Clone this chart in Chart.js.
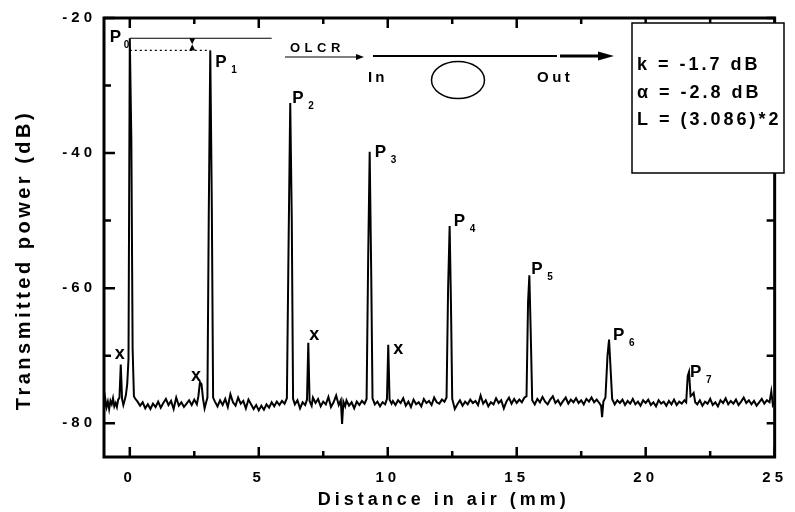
<html>
<head>
<style>
  body { margin: 0; background: #fff; }
  #wrap { width: 795px; height: 512px; }
</style>
</head>
<body>
<div id="wrap">
  <canvas id="myChart" width="795" height="512"></canvas>
</div>

<script src="https://cdn.jsdelivr.net/npm/chart.js"></script>

<script>
  // OLCR trace, distance in air (mm) vs transmitted power (dB)
  const dist = [
    -1.00, -0.95, -0.90, -0.85, -0.80, -0.75, -0.70, -0.65, -0.60, -0.55,
    -0.50, -0.45, -0.40, -0.35, -0.30, -0.25, -0.20, -0.15, -0.10, -0.05,
    0.00, 0.06, 0.11, 0.16, 0.20, 0.30, 0.40, 0.50, 0.60, 0.70,
    0.80, 0.90, 1.00, 1.10, 1.20, 1.30, 1.40, 1.50, 1.60, 1.70,
    1.80, 1.90, 2.00, 2.10, 2.20, 2.30, 2.40, 2.50, 2.60, 2.66,
    2.72, 2.78, 2.84, 2.90, 2.96, 3.01, 3.06, 3.12, 3.18, 3.23,
    3.30, 3.40, 3.50, 3.60, 3.70, 3.80, 3.90, 4.00, 4.10, 4.20,
    4.30, 4.40, 4.50, 4.60, 4.70, 4.80, 4.90, 5.00, 5.10, 5.20,
    5.30, 5.40, 5.50, 5.60, 5.70, 5.80, 5.90, 6.00, 6.09, 6.16,
    6.22, 6.28, 6.33, 6.40, 6.50, 6.60, 6.70, 6.80, 6.87, 6.92,
    6.97, 7.05, 7.10, 7.20, 7.30, 7.40, 7.50, 7.60, 7.70, 7.80,
    7.90, 8.00, 8.10, 8.18, 8.23, 8.28, 8.35, 8.40, 8.50, 8.60,
    8.70, 8.80, 8.90, 9.00, 9.10, 9.18, 9.24, 9.30, 9.36, 9.41,
    9.50, 9.60, 9.70, 9.80, 9.90, 9.97, 10.02, 10.07, 10.15, 10.20,
    10.30, 10.40, 10.50, 10.60, 10.70, 10.80, 10.90, 11.00, 11.10, 11.20,
    11.30, 11.40, 11.50, 11.60, 11.70, 11.80, 11.90, 12.00, 12.10, 12.20,
    12.28, 12.34, 12.40, 12.45, 12.50, 12.60, 12.70, 12.80, 12.90, 13.00,
    13.10, 13.20, 13.30, 13.40, 13.50, 13.60, 13.70, 13.80, 13.90, 14.00,
    14.10, 14.20, 14.30, 14.40, 14.50, 14.60, 14.70, 14.80, 14.90, 15.00,
    15.10, 15.20, 15.30, 15.38, 15.44, 15.49, 15.54, 15.60, 15.70, 15.80,
    15.90, 16.00, 16.10, 16.20, 16.30, 16.40, 16.50, 16.60, 16.70, 16.80,
    16.90, 17.00, 17.10, 17.20, 17.30, 17.40, 17.50, 17.60, 17.70, 17.80,
    17.90, 18.00, 18.10, 18.20, 18.27, 18.31, 18.36, 18.44, 18.52, 18.58,
    18.64, 18.70, 18.80, 18.90, 19.00, 19.10, 19.20, 19.30, 19.40, 19.50,
    19.60, 19.70, 19.80, 19.90, 20.00, 20.10, 20.20, 20.30, 20.40, 20.50,
    20.60, 20.70, 20.80, 20.90, 21.00, 21.10, 21.20, 21.30, 21.40, 21.50,
    21.57, 21.63, 21.68, 21.74, 21.80, 21.86, 21.92, 22.00, 22.10, 22.20,
    22.30, 22.40, 22.50, 22.60, 22.70, 22.80, 22.90, 23.00, 23.10, 23.20,
    23.30, 23.40, 23.50, 23.60, 23.70, 23.80, 23.90, 24.00, 24.10, 24.20,
    24.30, 24.40, 24.50, 24.60, 24.70, 24.80, 24.87, 24.93, 25.00
  ];
  const power = [
    -78.0, -76.4, -77.6, -76.8, -77.9, -76.7, -77.2, -76.3, -77.5, -77.0,
    -77.6, -76.5, -76.2, -71.3, -76.4, -77.3, -76.6, -75.8, -74.2, -70.5,
    -23.0, -38.0, -69.0, -76.0, -76.3, -76.8, -77.4, -76.9, -77.8, -77.2,
    -77.9, -77.1, -77.6, -76.8, -77.7, -77.0, -76.4, -77.3, -76.7, -77.9,
    -76.2, -77.4, -76.9, -77.6, -77.1, -76.6, -77.3, -76.5, -77.2, -76.0,
    -73.9, -74.2, -76.4, -77.8, -76.9, -76.2, -50.0, -24.8, -48.0, -76.2,
    -76.8, -77.5, -76.6, -77.3, -76.4, -77.6, -75.7, -76.9, -77.4, -76.2,
    -77.1, -76.7, -77.8, -76.5, -77.2, -77.9, -77.3, -78.1, -77.4, -78.0,
    -77.2, -77.7, -76.9, -77.5, -76.8, -77.3, -76.7, -77.1, -76.3, -52.0,
    -32.6, -50.0, -76.4, -77.2, -76.6, -77.8, -76.9, -77.3, -76.5, -68.1,
    -76.7, -77.4, -76.2, -77.0, -76.4, -77.5, -76.8, -77.2, -76.1, -77.6,
    -76.9, -75.9, -77.3, -76.6, -80.1, -76.8, -77.5, -76.6, -77.4, -76.9,
    -77.8, -76.8, -77.3, -76.7, -77.1, -76.4, -56.0, -39.8, -58.0, -76.3,
    -77.2, -76.8, -77.5, -76.9, -77.2, -76.4, -68.4, -76.5, -77.1, -76.7,
    -77.3, -76.6, -77.0, -76.3, -77.4, -76.8, -77.6, -76.5, -77.2, -76.9,
    -77.5, -76.4, -77.0, -76.7, -77.3, -76.2, -76.9, -77.1, -76.5, -76.8,
    -76.2, -60.0, -50.8, -62.0, -76.4, -77.9, -77.2, -76.6, -77.4, -76.8,
    -77.2, -76.5, -77.0, -76.7, -77.3, -75.9, -77.1, -76.6, -77.5, -76.9,
    -77.2, -76.3, -77.0, -76.6, -77.8, -76.8, -76.2, -77.1, -76.4, -77.0,
    -76.5, -76.9, -76.2, -76.0, -62.0, -58.1, -66.0, -76.6, -77.2, -76.4,
    -76.9, -76.1, -76.8, -77.2, -76.5, -76.0, -77.0, -76.6, -77.3, -76.7,
    -76.2, -77.1, -76.5, -76.9, -76.3, -77.0, -76.6, -77.2, -76.4, -76.8,
    -76.2, -76.9, -76.5, -77.0, -77.4, -79.1, -76.8, -76.2, -70.0, -67.6,
    -72.0, -76.4, -77.2, -76.6, -77.0, -76.5, -77.3, -76.7, -77.1, -76.4,
    -77.2, -76.8, -77.4, -76.6, -77.0, -76.5, -77.3, -76.9, -77.5, -76.6,
    -77.1, -76.8, -77.4, -76.7, -77.2, -76.5, -77.3, -76.8, -77.1, -76.6,
    -76.9, -73.0, -72.4, -76.0, -75.8, -75.5, -76.9, -77.2, -76.6, -77.4,
    -76.8, -77.1, -76.4, -77.3, -76.9, -77.5, -76.6, -77.0, -76.3, -77.2,
    -76.7, -77.1, -76.5, -77.3, -76.8, -76.2, -77.0, -76.6, -77.2, -76.7,
    -77.4, -76.9, -76.4, -77.1, -76.6, -76.9, -75.3, -77.3, -76.8
  ];

  // labelled peaks P0..P7 and the spurious "x" reflections
  const peakNames = ['0', '1', '2', '3', '4', '5', '6', '7'];
  const peakDist = [0.00, 3.12, 6.22, 9.30, 12.40, 15.49, 18.58, 21.68];
  const peakPower = [-23.0, -24.8, -32.6, -39.8, -50.8, -58.1, -67.6, -72.4];
  const spurDist = [-0.35, 2.72, 6.92, 10.02];
  const spurPower = [-71.3, -73.9, -68.1, -68.4];

  const xTickValues = [0, 5, 10, 15, 20, 25];
  const xMinorValues = [2.5, 7.5, 12.5, 17.5, 22.5];
  const yTickValues = [-80, -60, -40, -20];
  const yMinorValues = [-70, -50, -30];

  const insetLines = ['k = -1.7 dB', '\u03B1 = -2.8 dB', 'L = (3.086)*2'];

  const FONT = "'Liberation Sans', Arial, sans-serif";
  Chart.defaults.font.family = FONT;
  Chart.defaults.color = '#000';

  function txt(ctx, s, x, y, size, spacing) {
    ctx.font = 'bold ' + size + 'px ' + FONT;
    ctx.letterSpacing = (spacing || 0) + 'px';
    ctx.fillText(s, x, y);
  }

  function arrowHead(ctx, x, y, len, half) {
    ctx.beginPath();
    ctx.moveTo(x, y);
    ctx.lineTo(x - len, y - half);
    ctx.lineTo(x - len, y + half);
    ctx.closePath();
    ctx.fill();
  }

  const decor = {
    id: 'decor',
    beforeDraw(chart) {
      // the scanned figure uses widely spaced lettering for ticks and titles
      chart.ctx.letterSpacing = '4px';
    },
    afterDraw(chart) {
      const ctx = chart.ctx;
      const a = chart.chartArea;
      const xs = chart.scales.x, ys = chart.scales.y;
      ctx.save();
      ctx.letterSpacing = '0px';
      ctx.strokeStyle = '#000';
      ctx.fillStyle = '#000';

      // frame + inward ticks on all four sides
      ctx.lineWidth = 3;
      ctx.strokeRect(a.left, a.top, a.right - a.left, a.bottom - a.top);
      ctx.lineWidth = 2.5;
      ctx.beginPath();
      xTickValues.concat(xMinorValues).forEach(function (v) {
        const px = xs.getPixelForValue(v);
        const len = xTickValues.includes(v) ? 10 : 6;
        ctx.moveTo(px, a.bottom); ctx.lineTo(px, a.bottom - len);
        ctx.moveTo(px, a.top); ctx.lineTo(px, a.top + len);
      });
      yTickValues.concat(yMinorValues).forEach(function (v) {
        const py = ys.getPixelForValue(v);
        const len = yTickValues.includes(v) ? 11 : 7;
        ctx.moveTo(a.left, py); ctx.lineTo(a.left + len, py);
        ctx.moveTo(a.right, py); ctx.lineTo(a.right - 8, py);
      });
      ctx.stroke();

      // y axis title
      ctx.save();
      ctx.translate(24, 260);
      ctx.rotate(-Math.PI / 2);
      ctx.textAlign = 'center';
      ctx.textBaseline = 'middle';
      txt(ctx, 'Transmitted power (dB)', 0, 0, 20, 3.5);
      ctx.restore();

      // reference lines between P0 and P1
      const p0x = xs.getPixelForValue(peakDist[0]);
      const p0y = ys.getPixelForValue(peakPower[0]);
      const p1x = xs.getPixelForValue(peakDist[1]);
      const p1y = ys.getPixelForValue(peakPower[1]);
      ctx.lineWidth = 1.2;
      ctx.beginPath();
      ctx.moveTo(p0x, p0y); ctx.lineTo(xs.getPixelForValue(5.5), p0y);
      ctx.stroke();
      ctx.setLineDash([2, 3]);
      ctx.beginPath();
      ctx.moveTo(p0x, p1y); ctx.lineTo(p1x, p1y);
      ctx.stroke();
      ctx.setLineDash([]);
      const mx = xs.getPixelForValue(2.42);
      ctx.beginPath();
      ctx.moveTo(mx - 3, p0y); ctx.lineTo(mx + 3, p0y); ctx.lineTo(mx, (p0y + p1y) / 2); ctx.closePath();
      ctx.moveTo(mx - 3, p1y); ctx.lineTo(mx + 3, p1y); ctx.lineTo(mx, (p0y + p1y) / 2); ctx.closePath();
      ctx.fill();

      // peak labels
      const offs = [[-20, 4], [5, 17], [2, 0], [5, 5], [4, 0], [2, -1], [4, 1], [1, 5]];
      ctx.textAlign = 'left';
      ctx.textBaseline = 'alphabetic';
      peakNames.forEach(function (n, i) {
        const px = xs.getPixelForValue(peakDist[i]) + offs[i][0];
        const py = ys.getPixelForValue(peakPower[i]) + offs[i][1];
        txt(ctx, 'P', px, py, 17, 0);
        txt(ctx, n, px + (i === 0 ? 14 : 16), py + 6, 10, 0);
      });

      // spurious reflection marks
      const xoffs = [[-1, -9], [-4, -5], [6, -7], [10, 5]];
      ctx.textAlign = 'center';
      ctx.textBaseline = 'middle';
      spurDist.forEach(function (d, i) {
        const px = xs.getPixelForValue(d) + xoffs[i][0];
        const py = ys.getPixelForValue(spurPower[i]) + xoffs[i][1];
        txt(ctx, 'x', px, py - 1, 18, 0);
      });

      // OLCR sketch
      ctx.textAlign = 'left';
      ctx.textBaseline = 'alphabetic';
      txt(ctx, 'OLCR', 290, 52, 13, 4.5);
      ctx.lineWidth = 1.2;
      ctx.beginPath(); ctx.moveTo(285, 57); ctx.lineTo(358, 57); ctx.stroke();
      arrowHead(ctx, 364, 57, 8, 3);
      ctx.lineWidth = 2;
      ctx.beginPath(); ctx.moveTo(373, 56); ctx.lineTo(557, 56); ctx.stroke();
      ctx.lineWidth = 3;
      ctx.beginPath(); ctx.moveTo(560, 56); ctx.lineTo(600, 56); ctx.stroke();
      arrowHead(ctx, 614, 56, 16, 4.5);
      txt(ctx, 'In', 368, 82, 15, 3);
      txt(ctx, 'Out', 537, 82, 15, 3.5);
      ctx.lineWidth = 1.5;
      ctx.beginPath();
      ctx.ellipse(458, 80, 26.5, 18.5, 0, 0, Math.PI * 2);
      ctx.stroke();

      // parameter box
      ctx.fillStyle = '#fff';
      ctx.fillRect(632, 23, 152, 150);
      ctx.lineWidth = 1.5;
      ctx.strokeRect(632, 23, 152, 150);
      ctx.fillStyle = '#000';
      insetLines.forEach(function (s, i) {
        txt(ctx, s, 637, 70 + i * 27.5, 18, 3);
      });

      ctx.restore();
    }
  };

  const ctx = document.getElementById('myChart');

  chart = new Chart(ctx, {
    type: 'line',
    data: {
      datasets: [{
        label: 'Transmitted power',
        data: dist.map(function (d, i) { return { x: d, y: power[i] }; }),
        borderColor: '#000',
        borderWidth: 2,
        pointRadius: 0,
        tension: 0
      }]
    },
    options: {
      responsive: false,
      animation: false,
      layout: { padding: { top: 18, right: 14, left: 0, bottom: 0 } },
      plugins: { legend: { display: false }, tooltip: { enabled: false } },
      scales: {
        x: {
          type: 'linear',
          min: -1,
          max: 25,
          afterBuildTicks: function (s) { s.ticks = xTickValues.map(function (v) { return { value: v }; }); },
          afterFit: function (s) { s.height = 55; },
          grid: { display: false, drawTicks: false },
          border: { display: false },
          ticks: { font: { size: 15, weight: 'bold' }, color: '#000', padding: 12, maxRotation: 0, autoSkip: false },
          title: { display: true, text: ' Distance in air (mm)', font: { size: 18, weight: 'bold' }, color: '#000', padding: { top: 0, bottom: 1 } }
        },
        y: {
          min: -85,
          max: -20,
          afterBuildTicks: function (s) { s.ticks = yTickValues.map(function (v) { return { value: v }; }); },
          afterFit: function (s) { s.width = 104; },
          grid: { display: false, drawTicks: false },
          border: { display: false },
          ticks: { font: { size: 15, weight: 'bold' }, color: '#000', padding: 8, autoSkip: false }
        }
      }
    },
    plugins: [decor]
  });
</script>
</body>
</html>
